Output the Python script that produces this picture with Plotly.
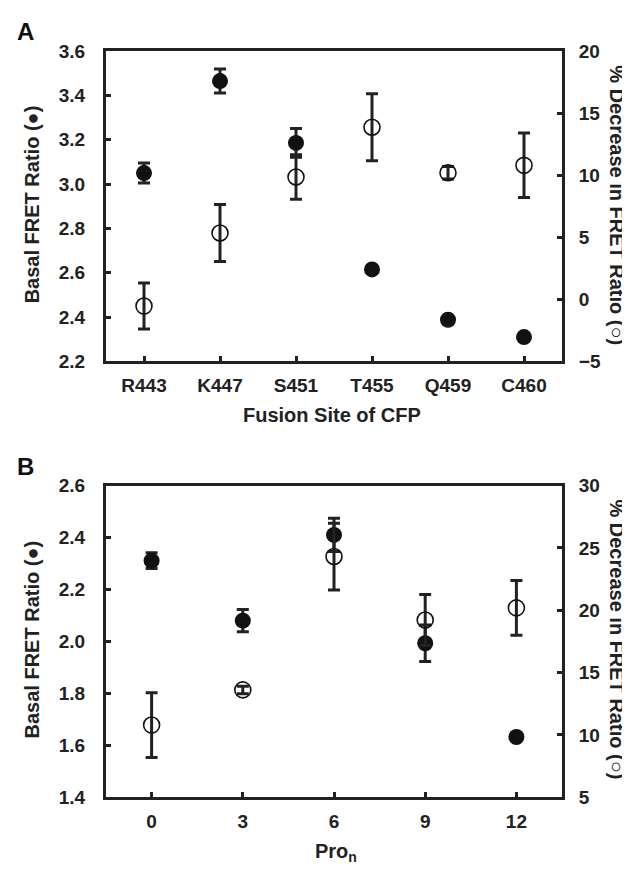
import plotly.graph_objects as go

# ---------------- Data ----------------
# Panel A
sites = ["R443", "K447", "S451", "T455", "Q459", "C460"]
basal_ratio_a = [3.05, 3.465, 3.186, 2.615, 2.388, 2.31]
basal_err_a = [0.045, 0.054, 0.065, 0.0, 0.0, 0.015]
decrease_a = [-0.54, 5.35, 9.86, 13.87, 10.2, 10.8]
decrease_err_a = [1.85, 2.3, 1.8, 2.7, 0.5, 2.6]

# Panel B
pro_n = [0, 3, 6, 9, 12]
basal_ratio_b = [2.311, 2.08, 2.41, 1.993, 1.632]
basal_err_b = [0.03, 0.043, 0.064, 0.07, 0.0]
decrease_b = [10.79, 13.61, 24.31, 19.22, 20.19]
decrease_err_b = [2.6, 0.3, 2.68, 2.04, 2.2]

left_ticks_a = [2.2, 2.4, 2.6, 2.8, 3.0, 3.2, 3.4, 3.6]
right_ticks_a = [-5, 0, 5, 10, 15, 20]
left_ticks_b = [1.4, 1.6, 1.8, 2.0, 2.2, 2.4, 2.6]
right_ticks_b = [5, 10, 15, 20, 25, 30]

# ---------------- Style ----------------
# The page body has an 8px default margin, so the figure is drawn 8px in
# from the top-left corner of the window; size it to fill the rest.
OFF = 8
W, H = 630 - OFF, 869 - OFF
FONT = "Arial, Liberation Sans, sans-serif"
TICKFONT = dict(family=FONT, size=19, color="#222222", weight="bold")
TITLEFONT = dict(family=FONT, size=20, color="#222222", weight="bold")
LINEC = "#222222"


def px(x):
    return (x - OFF) / W


def py(y):
    return 1 - (y - OFF) / H


fig = go.Figure()

def add_pair(xs, filled, ferr, opened, oerr, xa, ya_left, ya_right):
    fig.add_trace(go.Scatter(
        x=xs, y=opened, xaxis=xa, yaxis=ya_right, mode="markers",
        marker=dict(symbol="circle-open", size=16, color="#111111",
                    line=dict(width=1.6, color="#111111")),
        error_y=dict(type="data", array=oerr, visible=True, thickness=3,
                     width=6, color="#222222"),
        showlegend=False,
    ))
    fig.add_trace(go.Scatter(
        x=xs, y=filled, xaxis=xa, yaxis=ya_left, mode="markers",
        marker=dict(symbol="circle", size=16, color="#111111"),
        error_y=dict(type="data", array=ferr, visible=True, thickness=3,
                     width=6, color="#222222"),
        showlegend=False,
    ))

add_pair(sites, basal_ratio_a, basal_err_a, decrease_a, decrease_err_a, "x", "y", "y2")
add_pair(pro_n, basal_ratio_b, basal_err_b, decrease_b, decrease_err_b, "x2", "y3", "y4")

xdom = [px(106), px(562)]
ydomA = [py(360), py(42)]
ydomB = [py(806.7), py(487.3)]

common_axis = dict(showline=True, linewidth=3, linecolor=LINEC, ticks="inside",
                   ticklen=5, tickwidth=3, tickcolor=LINEC, showgrid=False,
                   zeroline=False, tickfont=TICKFONT)

fig.update_layout(
    width=W, height=H,
    margin=dict(l=0, r=0, t=0, b=0),
    paper_bgcolor="white", plot_bgcolor="white",
    font=dict(family=FONT, color="#222222"),
    xaxis=dict(domain=xdom, anchor="y", type="category",
               range=[-0.5, len(sites) - 0.5], mirror=True,
               ticklabelstandoff=5, **common_axis),
    yaxis=dict(domain=ydomA, anchor="x", range=[2.2, 3.6],
               tickvals=left_ticks_a, tickformat=".1f", side="left",
               ticklabelstandoff=14, **common_axis),
    yaxis2=dict(overlaying="y", anchor="x", side="right", range=[-5, 20],
                tickvals=right_ticks_a, ticklabelstandoff=10, **common_axis),
    xaxis2=dict(domain=xdom, anchor="y3", range=[-1.5, 13.5],
                tickvals=pro_n, mirror=True, ticklabelstandoff=5, **common_axis),
    yaxis3=dict(domain=ydomB, anchor="x2", range=[1.4, 2.6],
                tickvals=left_ticks_b, tickformat=".1f", side="left",
                ticklabelstandoff=14, **common_axis),
    yaxis4=dict(overlaying="y3", anchor="x2", side="right", range=[5, 30],
                tickvals=right_ticks_b, ticklabelstandoff=10, **common_axis),
)

annos = [
    dict(text="A", x=px(25), y=py(22), yanchor="middle", font=dict(family=FONT, size=24, color="#111111", weight="bold")),
    dict(text="B", x=px(25), y=py(468), yanchor="middle", font=dict(family=FONT, size=24, color="#111111", weight="bold")),
    dict(text="Fusion Site of CFP", x=px(332), y=py(415), yanchor="middle", font=TITLEFONT),
    dict(text="Pro<sub>n</sub>", x=px(336), y=py(878), yanchor="bottom", font=TITLEFONT),
    dict(text="Basal FRET Ratio (●)", x=px(32), y=py(199), yanchor="middle", textangle=-90, font=TITLEFONT),
    dict(text="% Decrease in FRET Ratio (○)", x=px(617), y=py(200), yanchor="middle", textangle=90, font=TITLEFONT),
    dict(text="Basal FRET Ratio (●)", x=px(32), y=py(645), yanchor="middle", textangle=-90, font=TITLEFONT),
    dict(text="% Decrease in FRET Ratio (○)", x=px(617), y=py(645), yanchor="middle", textangle=90, font=TITLEFONT),
]
for a in annos:
    fig.add_annotation(xref="paper", yref="paper", showarrow=False,
                       xanchor="center", **a)

fig.write_html("out.html", config={"displayModeBar": False})
